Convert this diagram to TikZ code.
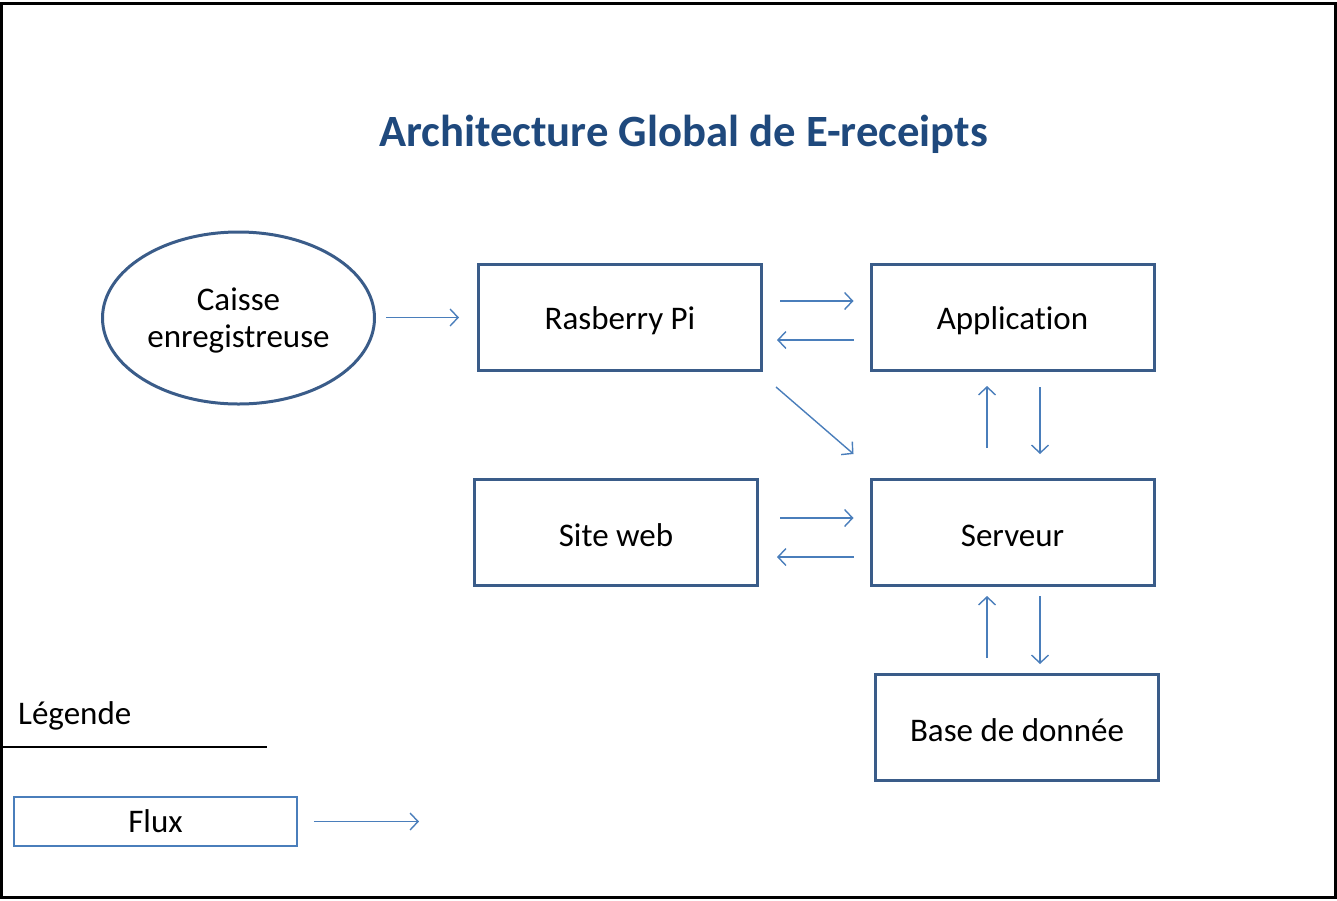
\documentclass[tikz,border=0pt]{standalone}
\usepackage{fontspec}
\setmainfont{Carlito}[Ligatures={NoCommon}]
\usetikzlibrary{arrows.meta,shapes.geometric,calc}
\definecolor{titleblue}{HTML}{1F497D}
\definecolor{boxblue}{HTML}{3A5C89}
\definecolor{arrowblue}{HTML}{4A7EBB}
\newcommand\dn[1]{\raisebox{-3pt}[\height][\depth]{#1}}
\begin{document}
\begin{tikzpicture}[x=1pt,y=-1pt,
  txt/.style={font=\fontsize{33}{37}\selectfont},
  box/.style={draw=boxblue,line width=3pt,minimum width=283pt,minimum height=106pt,inner sep=0pt,txt},
  flux/.style={draw=arrowblue,line width=1.4pt,-{Straight Barb[length=8pt,width=17pt,line width=1.4pt]}}]
\useasboundingbox (0,0) rectangle (1337,900);
\draw[line width=3pt] (1.5,3.5) rectangle (1335.5,897.5);
\node[font=\fontsize{44.7}{50}\selectfont\bfseries,text=titleblue] (title) at (683.5,134) {Architecture Global de E-receipts};
\node[ellipse,draw=boxblue,line width=3pt,minimum width=272pt,minimum height=172pt,inner sep=0pt,txt] (caisse) at (238.5,318) {\raisebox{-4pt}[\height][\depth]{\begin{tabular}{@{}c@{}}Caisse\\enregistreuse\end{tabular}}};
\node[box] (rp) at (620,317.5) {\dn{Rasberry Pi}};
\node[box] (app) at (1012.5,317.5) {\dn{Application}};
\node[box] (site) at (616,532.5) {\dn{Site web}};
\node[box] (serv) at (1012.5,532.5) {\dn{Serveur}};
\node[box] (base) at (1017,727.5) {\dn{Base de donnée}};
\node[txt,anchor=west,inner sep=0pt] (leg) at (18,716) {Légende};
\draw[line width=1.6pt] (0,747) -- (267,747);
\node[draw=arrowblue,line width=1.6pt,minimum width=283pt,minimum height=49pt,inner sep=0pt,txt] (fluxbox) at (155.5,821.5) {Flux};
\coordinate (fluxend) at (419,821.5);
% connectors
\draw[flux] ($(caisse.east)+(10,-0.5)$) -- ($(rp.west)+(-18,0)$);
\draw[flux] ($(rp.east)+(17,-16.5)$) -- ($(app.west)+(-16,-16.5)$);
\draw[flux] ($(app.west)+(-16,22.5)$) -- ($(rp.east)+(14,22.5)$);
\draw[flux] ($(rp.south east)+(13,15)$) -- ($(serv.north west)+(-16,-24)$);
\draw[flux] ($(serv.north)+(-25.5,-30)$) -- ($(app.south)+(-25.5,14)$);
\draw[flux] ($(app.south)+(27.5,15)$) -- ($(serv.north)+(27.5,-24)$);
\draw[flux] ($(site.east)+(21,-14.5)$) -- ($(serv.west)+(-16,-14.5)$);
\draw[flux] ($(serv.west)+(-16,24.5)$) -- ($(site.east)+(18,24.5)$);
\draw[flux] ($(base.north)+(-30,-15)$) -- ($(serv.south)+(-25.5,9)$);
\draw[flux] ($(serv.south)+(27.5,9)$) -- ($(base.north)+(23,-9)$);
\draw[flux,shorten <=16pt] (fluxbox.east) -- (fluxend);
\end{tikzpicture}
\end{document}
